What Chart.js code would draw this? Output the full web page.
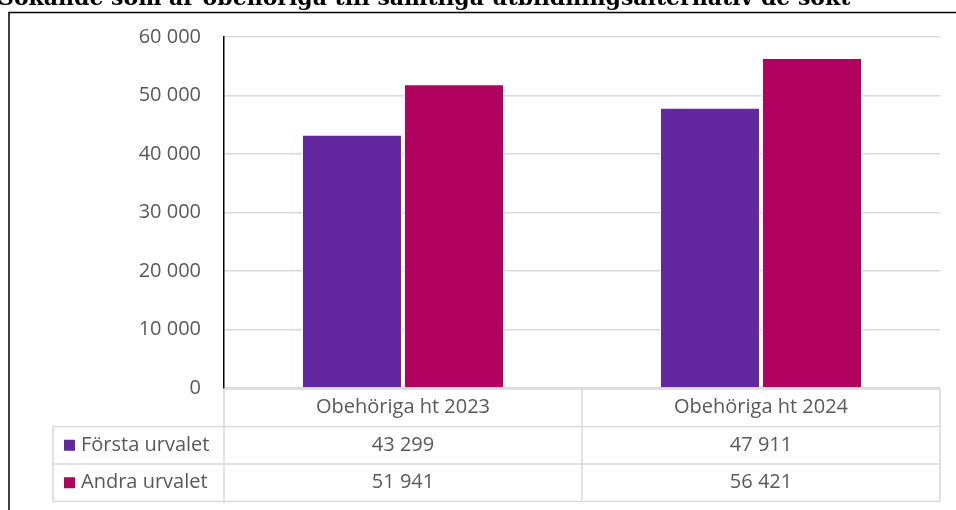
<!DOCTYPE html>
<html>
<head>
<meta charset="utf-8">
<script src="https://cdn.jsdelivr.net/npm/chart.js@4/dist/chart.umd.min.js"></script>
<style>
  html, body { margin: 0; padding: 0; background: #fff; }
  #wrap { position: relative; width: 956px; height: 510px; overflow: hidden; }
</style>
</head>
<body>
<div id="wrap"><canvas id="chart" width="956" height="510"></canvas></div>
<script>
// data
let title = "Sökande som är obehöriga till samtliga utbildningsalternativ de sökt";
let categories = ["Obehöriga ht 2023", "Obehöriga ht 2024"];
let series_names = ["Första urvalet", "Andra urvalet"];
let forsta = [43299, 47911];
let andra = [51941, 56421];
let y_ticks = [0, 10000, 20000, 30000, 40000, 50000, 60000];

let colors = ['#63289f', '#b1025f'];
let txt_font = '20px "Open Sans"';
let txt_col = '#595959';
let line_col = '#d9d9d9';

function fmt(v) {
    return String(v).replace(/\B(?=(\d{3})+(?!\d))/g, ' ');
}

// frame, cut title and the data table under the plot
let tablePlugin = {
    id: 'dataTable',
    afterDraw(chart) {
        let ctx = chart.ctx;
        let area = chart.chartArea;
        let x = chart.scales.x;
        let half = (x.getPixelForValue(1) - x.getPixelForValue(0)) / 2;
        let rowH = 37.5;
        let top = area.bottom + 1;
        let legLeft = 53;

        ctx.save();
        // title, mostly cut off at the top
        ctx.fillStyle = '#000';
        ctx.font = 'bold 22px "DejaVu Serif"';
        ctx.textAlign = 'left';
        ctx.textBaseline = 'alphabetic';
        ctx.fillText(title, -2, 5);

        // frame
        ctx.strokeStyle = '#000';
        ctx.lineWidth = 1.5;
        ctx.strokeRect(9, 12.5, 1000, 1000);

        // grid of the table
        ctx.strokeStyle = line_col;
        ctx.lineWidth = 1.5;
        ctx.beginPath();
        ctx.moveTo(area.left, top); ctx.lineTo(area.right, top);
        for (let r = 1; r <= 3; r++) {
            ctx.moveTo(legLeft, top + r * rowH); ctx.lineTo(area.right, top + r * rowH);
        }
        ctx.moveTo(legLeft, top + rowH); ctx.lineTo(legLeft, top + 3 * rowH);
        ctx.moveTo(area.left, top); ctx.lineTo(area.left, top + 3 * rowH);
        categories.forEach(function (c, i) {
            let r = x.getPixelForValue(i) + half;
            ctx.moveTo(r, top); ctx.lineTo(r, top + 3 * rowH);
        });
        ctx.stroke();

        // texts
        ctx.font = txt_font;
        ctx.fillStyle = txt_col;
        ctx.textBaseline = 'middle';
        ctx.textAlign = 'center';
        let rows = [forsta, andra];
        categories.forEach(function (c, i) {
            let cx = x.getPixelForValue(i);
            ctx.fillText(c, cx, top + rowH / 2);
            rows.forEach(function (vals, j) {
                ctx.fillText(fmt(vals[i]), cx, top + rowH * (j + 1.5));
            });
        });
        ctx.textAlign = 'left';
        series_names.forEach(function (n, j) {
            let cy = top + rowH * (j + 1.5);
            ctx.fillStyle = colors[j];
            ctx.fillRect(64, cy - 5.5, 11, 11);
            ctx.fillStyle = txt_col;
            ctx.fillText(n, 81, cy);
        });
        ctx.restore();
    }
};

let chart = new Chart(document.getElementById('chart').getContext('2d'), {
    type: 'bar',
    data: {
        labels: categories,
        datasets: [
            {label: series_names[0], data: forsta, backgroundColor: colors[0], borderColor: '#fff', borderWidth: 1},
            {label: series_names[1], data: andra, backgroundColor: colors[1], borderColor: '#fff', borderWidth: 1}
        ]
    },
    options: {
        responsive: false,
        animation: false,
        categoryPercentage: 0.57,
        barPercentage: 0.98,
        layout: {padding: {left: 0, top: 37, right: 16, bottom: 122}},
        plugins: {legend: {display: false}, tooltip: {enabled: false}, title: {display: false}},
        scales: {
            x: {display: false},
            y: {
                min: 0, max: 60000,
                afterFit: function (s) { s.width = 224; },
                afterBuildTicks: function (s) { s.ticks = y_ticks.map(v => ({value: v})); },
                ticks: {
                    padding: 23, color: txt_col,
                    font: {family: 'Open Sans', size: 20},
                    callback: v => fmt(v)
                },
                grid: {color: line_col, lineWidth: 1.5, drawTicks: false},
                border: {color: '#000', width: 1.5}
            }
        }
    },
    plugins: [tablePlugin]
});
</script>
</body>
</html>
